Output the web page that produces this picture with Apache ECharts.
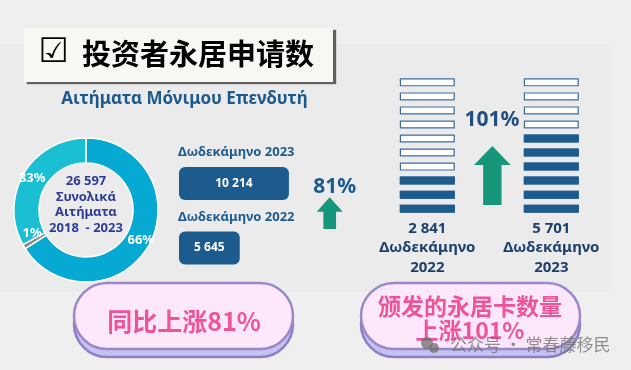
<!DOCTYPE html>
<html><head><meta charset="utf-8">
<script src="https://cdn.jsdelivr.net/npm/echarts@6/dist/echarts.min.js"></script>
<style>html,body{margin:0;padding:0;background:#efefef}#c{width:631px;height:370px}</style>
</head><body><div id="c"></div>
<script>
// ---- data ----
const shareLabels = ['66%', '1%', '33%'];
const shareValues = [66, 1, 33];
const totalApplications = 26597;
const totalLabel = ['Συνολικά', 'Αιτήματα', '2018  - 2023'];
const applicationPeriods = ['Δωδεκάμηνο 2023', 'Δωδεκάμηνο 2022'];
const applicationValues = [10214, 5645];
const permitYears = ['2022', '2023'];
const permitValues = [2841, 5701];
const permitPeriodWord = 'Δωδεκάμηνο';
const blockUnit = 1000;
const blockCount = 10;
const titleText = '投资者永居申请数';
const subtitleText = 'Αιτήματα Μόνιμου Επενδυτή';
const pillLeftText = '同比上涨81%';
const pillRightText = '颁发的永居卡数量\n上涨101%';
const watermarkText = '公众号 · 常春藤移民';

// ---- helpers ----
const fmt = n => String(n).replace(/\B(?=(\d{3})+(?!\d))/g, ' ');
const growth = (a, b) => Math.round((b / a - 1) * 100) + '%';
const GREEK = "'Noto Sans', 'Open Sans', sans-serif";
const CJK = "'Noto Sans CJK SC', sans-serif";
const BLUE = '#1d5a8e';

// pictorial geometry
const picTop = 72.3, picBottom = 212.7, blockH = 8, blockW = 55;
const unitPx = (picBottom - picTop) / blockCount;
const bounding = blockUnit * (blockCount - 1) + blockUnit * blockH / unitPx;
const ringPath = 'path://M0,0H55V8H0Z M1.2,1.2V6.8H53.8V1.2Z';

const chart = echarts.init(document.getElementById('c'), null, {renderer: 'canvas'});

function pill(x, y, w, h) {
  return [
    {type: 'rect', z: 5, shape: {x: x, y: y + 8, width: w, height: h, r: h / 2},
     style: {fill: '#c3c2f3', stroke: '#8f7fc0', lineWidth: 2.5}},
    {type: 'rect', z: 6, shape: {x: x, y: y, width: w, height: h, r: h / 2},
     style: {fill: '#fde8fb', stroke: '#9a88c8', lineWidth: 2.5}}
  ];
}
function arrow(x0, x1, yTop, yHead, yBottom, shaftW) {
  const cx = (x0 + x1) / 2;
  return {type: 'polygon', z: 5, shape: {points: [
    [x0, yHead], [cx, yTop], [x1, yHead], [cx + shaftW / 2, yHead], [cx + shaftW / 2, yBottom],
    [cx - shaftW / 2, yBottom], [cx - shaftW / 2, yHead]]}, style: {fill: '#17977a'}};
}
const blockSeries = (extra) => Object.assign({type: 'pictorialBar', xAxisIndex: 1, yAxisIndex: 1, silent: true,
  symbolSize: [blockW, blockH], symbolRepeat: blockCount, symbolBoundingData: bounding}, extra);

const option = {
  animation: false,
  backgroundColor: '#efefef',
  grid: [
    {left: 179, top: 151.25, width: 113, height: 129},
    {left: 365.3, top: picTop, width: 248, height: picBottom - picTop}
  ],
  xAxis: [
    {gridIndex: 0, type: 'value', min: 0, max: 10500, show: false},
    {gridIndex: 1, type: 'category', data: permitYears,
     axisLine: {show: false}, axisTick: {show: false},
     axisLabel: {interval: 0, margin: 6, color: '#1c3f6c', fontFamily: GREEK, fontWeight: 'bold', fontSize: 15, lineHeight: 19.5,
       formatter: (v, i) => fmt(permitValues[i]) + '\n' + permitPeriodWord + '\n' + v}}
  ],
  yAxis: [
    {gridIndex: 0, type: 'category', data: applicationPeriods, inverse: true, show: false},
    {gridIndex: 1, type: 'value', min: 0, max: blockUnit * blockCount, show: false}
  ],
  series: [
    {type: 'pie', center: [86, 210], radius: [47, 72], startAngle: 90, clockwise: true, silent: true,
     itemStyle: {borderColor: '#ffffff', borderWidth: 1.5},
     label: {position: 'inside', color: '#ffffff', fontFamily: GREEK, fontWeight: 'bold', fontSize: 13,
       formatter: p => shareLabels[p.dataIndex]},
     labelLine: {show: false},
     labelLayout: p => p.dataIndex === 1 ? {dy: -9} : {},
     data: shareValues.map((v, i) => ({value: v, itemStyle: {color: ['#05a9d2', '#8a8a8a', '#1bbfd3'][i]}}))},
    {type: 'bar', xAxisIndex: 0, yAxisIndex: 0, barWidth: 33, barGap: '-100%', data: applicationValues, silent: true,
     itemStyle: {color: BLUE, borderRadius: 6},
     label: {show: true, position: 'inside', color: '#ffffff', fontFamily: GREEK, fontWeight: 'bold', fontSize: 12,
       formatter: p => fmt(p.value)}},
    {type: 'bar', xAxisIndex: 0, yAxisIndex: 0, barWidth: 33, barGap: '-100%', data: applicationValues, silent: true,
     z: 3, itemStyle: {color: 'rgba(0,0,0,0)'},
     label: {show: true, position: [-1, -21], color: BLUE, fontFamily: GREEK, fontWeight: 'bold', fontSize: 13,
       formatter: p => p.name}},
    blockSeries({z: 3, symbol: 'rect', itemStyle: {color: '#ffffff'},
      data: permitValues.map(() => blockUnit * blockCount)}),
    blockSeries({z: 3, symbol: ringPath, itemStyle: {color: '#3a6994'},
      data: permitValues.map(() => blockUnit * blockCount)}),
    blockSeries({z: 4, symbol: 'rect', symbolClip: true, itemStyle: {color: BLUE}, data: permitValues})
  ],
  graphic: [
    {type: 'rect', z: -10, shape: {x: 0, y: 44, width: 612, height: 248}, style: {fill: '#ebebeb'}},
    {type: 'rect', z: 1, shape: {x: 24, y: 28, width: 309, height: 54},
     style: {fill: '#f7f7f4', shadowColor: 'rgba(70,70,70,0.85)', shadowOffsetX: 3, shadowOffsetY: 2, shadowBlur: 1}},
    {type: 'text', z: 2, x: 53.7, y: 53, style: {text: '☑', align: 'center', verticalAlign: 'middle',
      textAlign: 'center', textVerticalAlign: 'middle', fill: '#000', font: "34px 'DejaVu Sans'"}},
    {type: 'text', z: 2, x: 82, y: 54, style: {text: titleText, align: 'left', verticalAlign: 'middle',
      textVerticalAlign: 'middle', fill: '#000', font: "bold 29px " + CJK}},
    {type: 'text', z: 2, x: 184.5, y: 99, style: {text: subtitleText, align: 'center', verticalAlign: 'middle',
      textAlign: 'center', textVerticalAlign: 'middle', fill: BLUE, font: "bold 17px " + GREEK}},
    {type: 'text', z: 5, x: 86, y: 205, style: {text: fmt(totalApplications) + '\n' + totalLabel.join('\n'),
      align: 'center', verticalAlign: 'middle', textAlign: 'center', textVerticalAlign: 'middle',
      fill: '#2e3c97', font: "bold 13px " + GREEK, lineHeight: 15.5}},
    {type: 'text', z: 5, x: 334.8, y: 187, style: {text: growth(applicationValues[1], applicationValues[0]),
      align: 'center', verticalAlign: 'middle', textAlign: 'center', textVerticalAlign: 'middle',
      fill: BLUE, font: "bold 21px " + GREEK}},
    arrow(316.7, 342.7, 197.3, 211.7, 229, 12.7),
    {type: 'text', z: 5, x: 492, y: 120, style: {text: growth(permitValues[0], permitValues[1]),
      align: 'center', verticalAlign: 'middle', textAlign: 'center', textVerticalAlign: 'middle',
      fill: '#1f4f7f', font: "bold 21px " + GREEK}},
    arrow(474, 510.7, 146, 165, 205, 18.4),
    ...pill(74, 283, 219, 66),
    ...pill(361, 283, 219, 66),
    {type: 'text', z: 7, x: 184, y: 321, style: {text: pillLeftText, align: 'center', verticalAlign: 'middle',
      textAlign: 'center', textVerticalAlign: 'middle', fill: '#ef5499', font: "bold 25px " + CJK}},
    {type: 'text', z: 7, x: 470, y: 318, style: {text: pillRightText, align: 'center', verticalAlign: 'middle',
      textAlign: 'center', textVerticalAlign: 'middle', fill: '#ef5499', font: "bold 23px " + CJK, lineHeight: 24}},
    {type: 'circle', z: 8, shape: {cx: 427, cy: 343, r: 6}, style: {fill: 'rgba(110,110,110,0.75)'}},
    {type: 'circle', z: 8, shape: {cx: 434, cy: 348, r: 5}, style: {fill: 'rgba(110,110,110,0.75)'}},
    {type: 'text', z: 8, x: 450, y: 345, style: {text: watermarkText, align: 'left', verticalAlign: 'middle',
      textVerticalAlign: 'middle', fill: 'rgba(110,110,110,0.75)', font: "17px " + CJK}}
  ]
};
chart.setOption(option);
</script>
</body></html>
